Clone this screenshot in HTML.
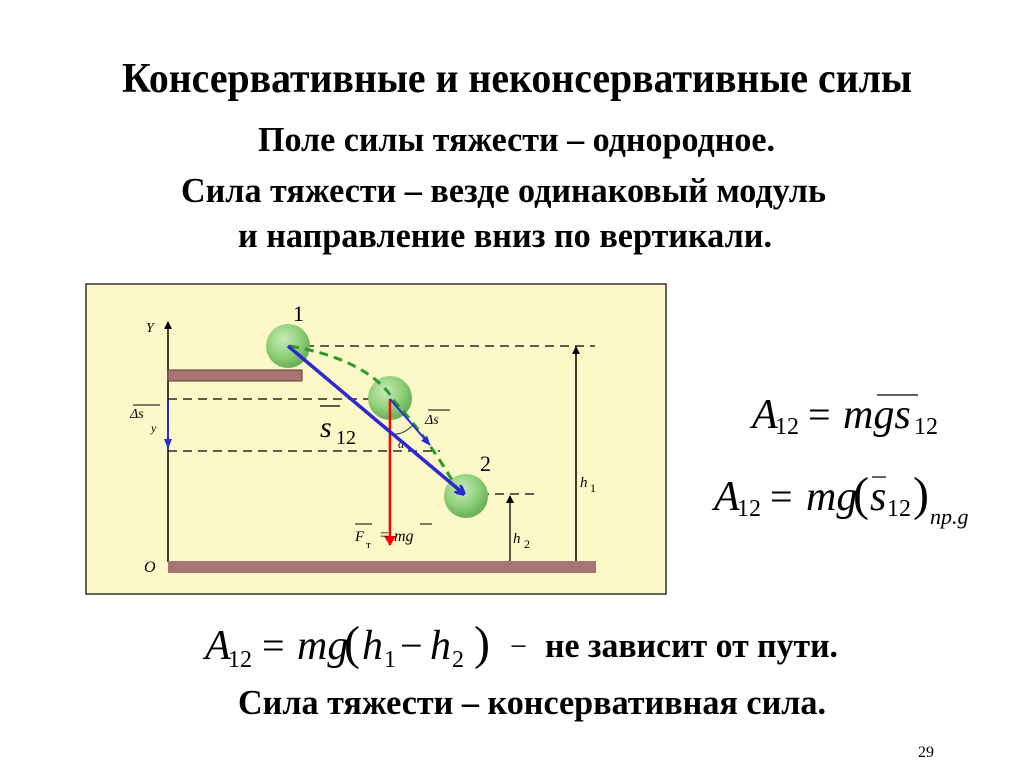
<!DOCTYPE html>
<html><head><meta charset="utf-8"><style>
html,body{margin:0;padding:0;background:#fff}
svg{display:block}
.h{font-family:"Liberation Serif",serif;font-weight:bold;fill:#000}
.m{font-family:"Liberation Serif",serif;font-style:italic;fill:#000}
.r{font-family:"Liberation Serif",serif;fill:#000}
</style></head><body>
<svg width="1024" height="767" viewBox="0 0 1024 767" xmlns="http://www.w3.org/2000/svg">
<defs>
<radialGradient id="g" cx="0.4" cy="0.35" r="0.65">
<stop offset="0" stop-color="#c8ecb8"/><stop offset="0.6" stop-color="#8fd07a"/><stop offset="1" stop-color="#6aae58"/></radialGradient>
<marker id="ab" markerWidth="10" markerHeight="10" refX="9" refY="5" orient="auto" markerUnits="userSpaceOnUse"><path d="M0,0 L10,5 L0,10" fill="none" stroke="#2a2ad0" stroke-width="3"/></marker>
<marker id="ak" markerWidth="8" markerHeight="8" refX="7" refY="4" orient="auto" markerUnits="userSpaceOnUse"><path d="M0,0 L8,4 L0,8 Z" fill="#000"/></marker>
<marker id="ar" markerWidth="10" markerHeight="12" refX="9" refY="6" orient="auto" markerUnits="userSpaceOnUse"><path d="M0,0 L10,6 L0,12 Z" fill="#f00"/></marker>
<marker id="abs" markerWidth="10" markerHeight="10" refX="9" refY="5" orient="auto" markerUnits="userSpaceOnUse"><path d="M0,1 L10,5 L0,9 Z" fill="#2a2ad0"/></marker>
</defs>
<text class="h" x="122" y="92" font-size="42" textLength="790" lengthAdjust="spacingAndGlyphs">Консервативные и неконсервативные силы</text>
<text class="h" x="258" y="151" font-size="35" textLength="517" lengthAdjust="spacingAndGlyphs">Поле силы тяжести – однородное.</text>
<text class="h" x="181" y="202" font-size="35" textLength="645" lengthAdjust="spacingAndGlyphs">Сила тяжести – везде одинаковый модуль</text>
<text class="h" x="238" y="247" font-size="35" textLength="534" lengthAdjust="spacingAndGlyphs">и направление вниз по вертикали.</text>

<rect x="86" y="284" width="580" height="310" fill="#fcf8c8" stroke="#333" stroke-width="1.5"/>
<line x1="168" y1="562" x2="168" y2="322" stroke="#000" stroke-width="1.5" marker-end="url(#ak)"/>
<text class="m" x="146" y="332" font-size="14">Y</text>
<text class="m" x="144" y="572" font-size="16">O</text>
<rect x="168" y="370" width="134" height="11" fill="#a87474" stroke="#6a3030"/>
<rect x="168" y="561" width="428" height="12" fill="#a87474"/>
<g stroke="#000" stroke-width="1.3" stroke-dasharray="9,6" fill="none">
<line x1="290" y1="346" x2="595" y2="346"/>
<line x1="168" y1="399" x2="388" y2="399"/>
<line x1="168" y1="451" x2="440" y2="451"/>
<line x1="480" y1="494" x2="536" y2="494"/>
</g>
<line x1="576" y1="561" x2="576" y2="347" stroke="#000" stroke-width="1.5" marker-end="url(#ak)"/>
<line x1="510" y1="561" x2="510" y2="496" stroke="#000" stroke-width="1.3" marker-end="url(#ak)"/>
<text class="m" x="580" y="487" font-size="15">h</text><text class="r" x="590" y="492" font-size="12">1</text>
<text class="m" x="513" y="543" font-size="15">h</text><text class="r" x="524" y="548" font-size="12">2</text>
<line x1="168" y1="401" x2="168" y2="448" stroke="#2a2ad0" stroke-width="2" marker-end="url(#abs)"/>
<text class="m" x="130" y="418" font-size="14">Δs</text><text class="m" x="151" y="432" font-size="12">y</text>
<line x1="133" y1="405" x2="160" y2="405" stroke="#000" stroke-width="1"/>
<circle cx="288" cy="346" r="22" fill="url(#g)"/>
<circle cx="390" cy="398" r="22" fill="url(#g)"/>
<circle cx="466" cy="496" r="22" fill="url(#g)"/>
<path d="M290,346 Q370,360 395,402 Q430,440 460,494" fill="none" stroke="#2a9a2a" stroke-width="3" stroke-dasharray="9,6"/>
<path d="M390,433 Q400,437 412,426" fill="none" stroke="#333" stroke-width="1"/>
<text class="m" x="398" y="448" font-size="12">α</text>
<line x1="390" y1="399" x2="390" y2="545" stroke="#f00" stroke-width="2.5" marker-end="url(#ar)"/>
<line x1="390" y1="399" x2="430" y2="445" stroke="#2a2ad0" stroke-width="2" marker-end="url(#abs)"/>
<text class="m" x="425" y="424" font-size="14">Δs</text>
<line x1="428" y1="410" x2="450" y2="410" stroke="#000" stroke-width="1"/>
<line x1="288" y1="346" x2="464" y2="494" stroke="#2a2ad0" stroke-width="3.5" marker-end="url(#ab)"/>
<text class="r" x="293" y="321" font-size="22">1</text>
<text class="r" x="480" y="471" font-size="22">2</text>
<text class="m" x="320" y="437" font-size="30">s</text><text class="r" x="336" y="444" font-size="20">12</text>
<line x1="320" y1="406" x2="340" y2="406" stroke="#000" stroke-width="1.3"/>
<text class="m" x="355" y="541" font-size="15">F</text><text class="r" x="366" y="548" font-size="11">т</text>
<text class="r" x="380" y="540" font-size="16">= </text><text class="m" x="394" y="541" font-size="16">mg</text>
<line x1="355" y1="524" x2="372" y2="524" stroke="#000"/><line x1="420" y1="524" x2="432" y2="524" stroke="#000"/>

<text class="m" x="752" y="428" font-size="42">A</text><text class="r" x="775" y="434" font-size="24">12</text>
<text class="r" x="808" y="428" font-size="40">=</text>
<text class="m" x="843" y="428" font-size="42">mgs</text><text class="r" x="914" y="434" font-size="24">12</text>
<line x1="877" y1="395" x2="918" y2="395" stroke="#000" stroke-width="1.2"/>
<text class="m" x="714" y="510" font-size="42">A</text><text class="r" x="737" y="516" font-size="24">12</text>
<text class="r" x="770" y="510" font-size="40">=</text>
<text class="m" x="806" y="510" font-size="42">mg</text>
<text class="r" x="853" y="510" font-size="48">(</text>
<text class="m" x="870" y="510" font-size="42">s</text><text class="r" x="887" y="516" font-size="24">12</text>
<line x1="872" y1="477" x2="886" y2="477" stroke="#000" stroke-width="1.2"/>
<text class="r" x="913" y="510" font-size="48">)</text>
<text class="m" x="930" y="524" font-size="22">пр.g</text>

<text class="m" x="205" y="659" font-size="42">A</text><text class="r" x="228" y="667" font-size="24">12</text>
<text class="r" x="262" y="659" font-size="40">=</text>
<text class="m" x="297" y="659" font-size="42">mg</text>
<text class="r" x="344" y="659" font-size="48">(</text>
<text class="m" x="362" y="659" font-size="42">h</text><text class="r" x="384" y="667" font-size="24">1</text>
<text class="r" x="400" y="659" font-size="40">−</text>
<text class="m" x="430" y="659" font-size="42">h</text><text class="r" x="452" y="667" font-size="24">2</text>
<text class="r" x="474" y="659" font-size="48">)</text>
<text class="r" x="510" y="656" font-size="30">−</text>
<text class="h" x="545" y="657" font-size="35" textLength="293" lengthAdjust="spacingAndGlyphs">не зависит от пути.</text>
<text class="h" x="238" y="714" font-size="35" textLength="588" lengthAdjust="spacingAndGlyphs">Сила тяжести – консервативная сила.</text>
<text class="r" x="918" y="757" font-size="16">29</text>
</svg>
</body></html>
